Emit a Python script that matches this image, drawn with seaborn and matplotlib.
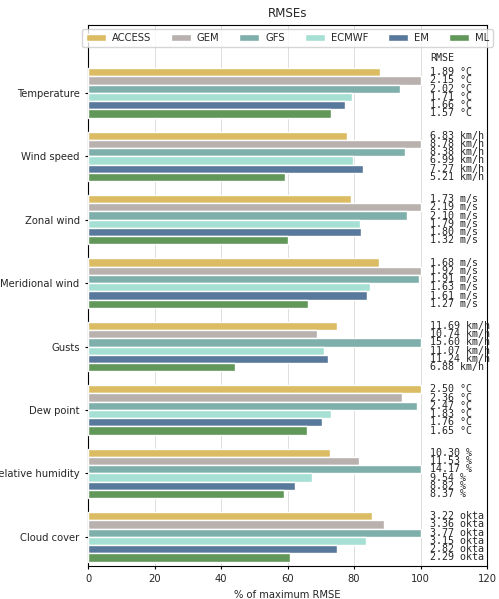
import matplotlib
matplotlib.use("Agg")
import matplotlib.pyplot as plt
import seaborn as sns
import pandas as pd

variables = ["Temperature", "Wind speed", "Zonal wind", "Meridional wind", "Gusts",
             "Dew point", "Relative humidity", "Cloud cover"]
models = ["ACCESS", "GEM", "GFS", "ECMWF", "EM", "ML"]
units = ["°C", "km/h", "m/s", "m/s", "km/h", "°C", "%", "okta"]
rmse = {
    "Temperature": [1.89, 2.15, 2.02, 1.71, 1.66, 1.57],
    "Wind speed": [6.83, 8.78, 8.38, 6.99, 7.27, 5.21],
    "Zonal wind": [1.73, 2.19, 2.10, 1.79, 1.80, 1.32],
    "Meridional wind": [1.68, 1.92, 1.91, 1.63, 1.61, 1.27],
    "Gusts": [11.69, 10.74, 15.60, 11.07, 11.24, 6.88],
    "Dew point": [2.50, 2.36, 2.47, 1.83, 1.76, 1.65],
    "Relative humidity": [10.30, 11.53, 14.17, 9.54, 8.82, 8.37],
    "Cloud cover": [3.22, 3.36, 3.77, 3.15, 2.82, 2.29],
}
colors = ["#f0c64f", "#bab0ac", "#76b7b2", "#9de8d8", "#4e79a7", "#59a14f"]

rows = []
for v in variables:
    mx = max(rmse[v])
    for m, r in zip(models, rmse[v]):
        rows.append({"variable": v, "model": m, "pct": r / mx * 100})
df = pd.DataFrame(rows)

sns.set_style("white")
plt.rcParams["font.size"] = 7.2
fig = plt.figure(figsize=(4.99, 5.99), dpi=100)
ax = fig.add_axes([88/499, 1-566/599, (487-88)/499, (566-25)/599])
sns.barplot(data=df, y="variable", x="pct", hue="model", order=variables,
            hue_order=models, palette=colors, orient="h", width=0.78,
            ax=ax, zorder=3)
ax.set_xlim(0, 120)
ax.set_ylim(7.46, -1.07)
ax.set_xticks([0, 20, 40, 60, 80, 100, 120])
ax.grid(axis="x", color="#dddddd", lw=0.7, zorder=0)
ax.set_axisbelow(True)
ax.set_ylabel("")
ax.set_xlabel("% of maximum RMSE", fontsize=7.2)
ax.set_title("RMSEs", fontsize=8.6)
ax.tick_params(axis="both", labelsize=7.2, length=2.5, color="black", left=True, bottom=True)
for s in ax.spines.values():
    s.set_color("black")
    s.set_linewidth(0.8)

bw = 0.78 / 6
for i, v in enumerate(variables):
    for j, r in enumerate(rmse[v]):
        y = i - 0.39 + bw * (j + 0.5)
        ax.text(103, y, f"{r:.2f} {units[i]}", family="DejaVu Sans Mono",
                fontsize=7.2, va="center", ha="left")
ax.text(103, -0.55, "RMSE", family="DejaVu Sans Mono", fontsize=7.2, va="center")

ax.legend(loc="upper center", ncol=6, fontsize=7.2, frameon=True,
          handlelength=2.0, columnspacing=2.0, handletextpad=0.6,
          bbox_to_anchor=(0.5, 1.0), borderaxespad=0.4)
fig.savefig("out.png", dpi=100)
